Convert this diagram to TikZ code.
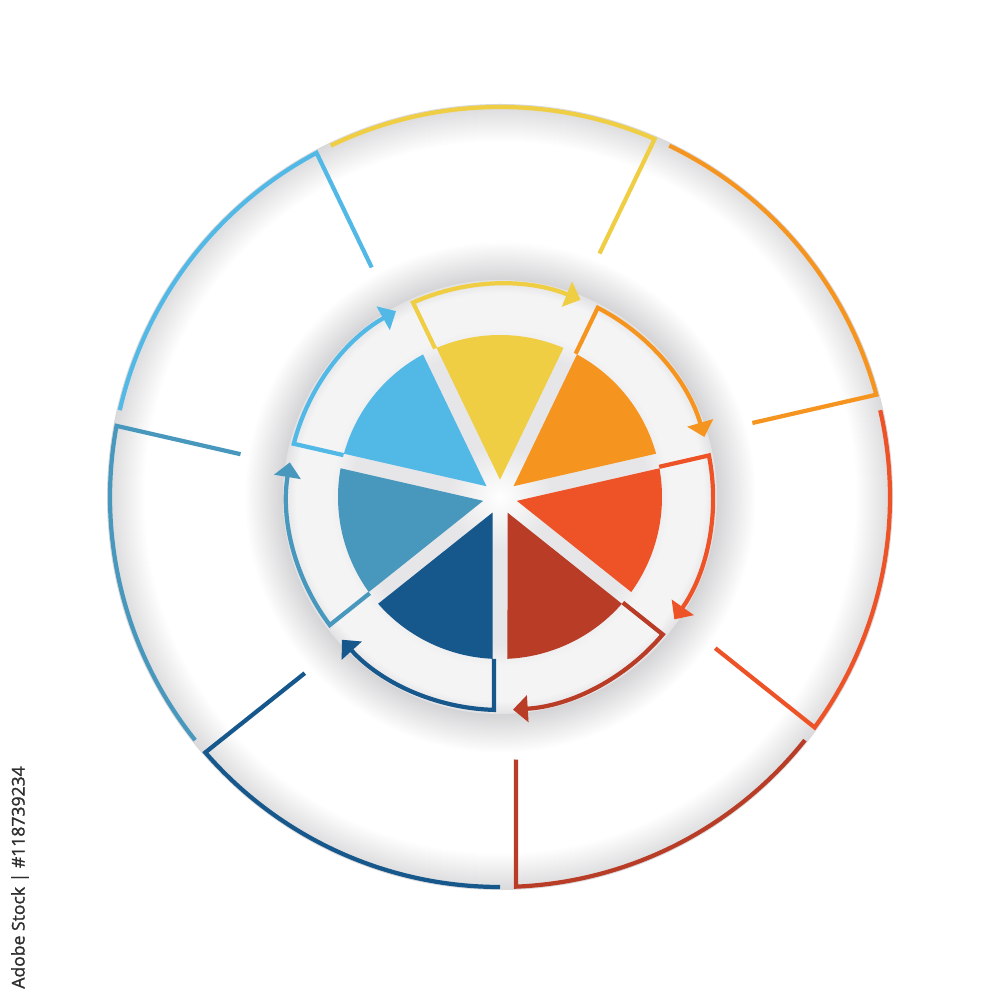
\documentclass[tikz,border=0pt]{standalone}
\usepackage{fontspec}
\setmainfont{Open Sans}
\newfontfamily\creditfont[FakeBold=1.4]{Open Sans}
\usetikzlibrary{arrows.meta}

\definecolor{segyellow}{HTML}{F0CE44}
\definecolor{segorange}{HTML}{F5951F}
\definecolor{segred}{HTML}{EE5328}
\definecolor{segrust}{HTML}{B83C26}
\definecolor{segnavy}{HTML}{16578C}
\definecolor{segsteel}{HTML}{4898BE}
\definecolor{segsky}{HTML}{52B9E7}
\definecolor{ringgray}{HTML}{D9D9DB}
\definecolor{shadowgray}{HTML}{D4D4D6}
\definecolor{discgray}{HTML}{E6E6E8}
\definecolor{disclight}{HTML}{F4F4F5}
\definecolor{discedge}{HTML}{E2E2E4}
\definecolor{credittext}{HTML}{2E2E2E}

\pgfdeclareradialshading{outerring}{\pgfpointorigin}{color(0bp)=(white); color(22.6bp)=(white); color(25bp)=(ringgray); color(50bp)=(ringgray)}
\pgfdeclareradialshading{discshadow}{\pgfpointorigin}{color(0bp)=(shadowgray); color(21.2bp)=(shadowgray); color(25bp)=(white); color(50bp)=(white)}
\pgfdeclareradialshading{innerdisc}{\pgfpointorigin}{color(0bp)=(white); color(6bp)=(discgray); color(17bp)=(discgray); color(19.5bp)=(disclight); color(23.5bp)=(disclight); color(25bp)=(discedge); color(50bp)=(discedge)}

\tikzset{
  seg line/.style={line width=1.2pt},
  seg tip/.style={-{Triangle[length=4.2pt,width=7.5pt]}}
}

\begin{document}
\begin{tikzpicture}

\useasboundingbox (-5,-5.03) rectangle (5,4.97);

% ring and disc backgrounds
\shade[shading=outerring] (0,0) circle (3.93);
\shade[shading=discshadow] (0,0) circle (2.56);
\shade[shading=innerdisc] (0,0) circle (2.17);

% seven segments, clockwise from the top
\foreach \c [count=\i from 0] in {segyellow,segorange,segred,segrust,segnavy,segsteel,segsky}{
  \pgfmathsetmacro\a{115.714-51.4286*\i}
  \pgfmathsetmacro\b{\a-51.4286}
  \pgfmathsetmacro\m{\a-25.7143}
  \fill[\c] (\m:0.173) -- (\a-2.65:1.62) arc[start angle=\a-2.65, end angle=\b+2.65, radius=1.62] -- cycle;
  \draw[seg line,seg tip,\c] (\a-2.12:1.62) -- (\a-1.61:2.13) arc[start angle=\a-1.61, end angle=\b+3.5, radius=2.13];
  \draw[seg line,\c] (\a:3.90) arc[start angle=\a, end angle=\b+2.35, radius=3.90] -- (\b+3.49:2.63);
}

\node[rotate=90,text=credittext,font=\creditfont\fontsize{5}{6}\selectfont,inner sep=0pt] (credit) at (-4.80,-3.805) {Adobe Stock | \#118739234};

\end{tikzpicture}
\end{document}
